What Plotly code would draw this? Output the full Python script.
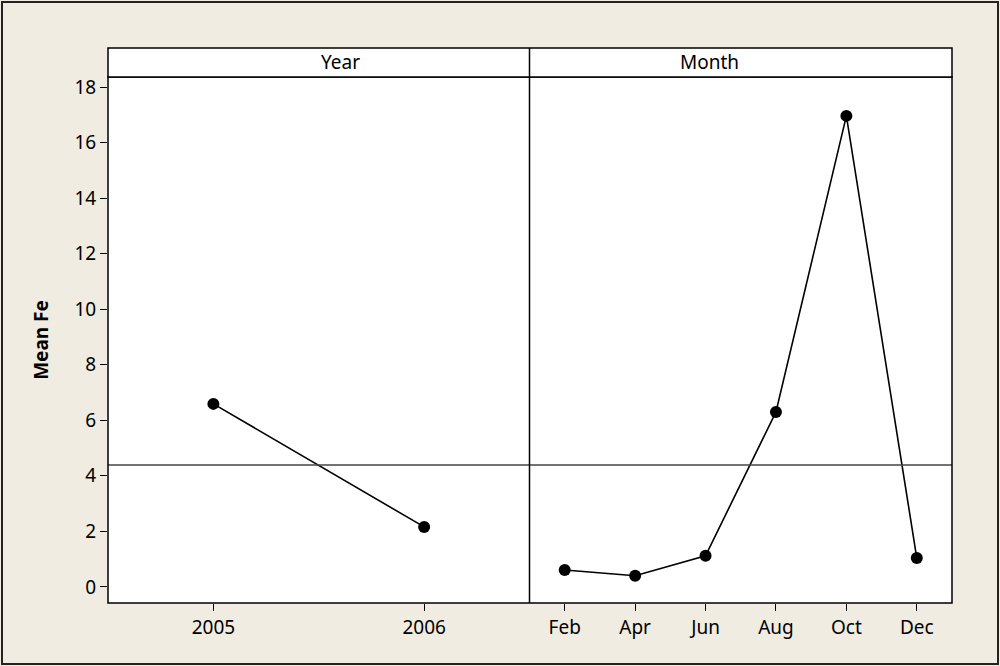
import plotly.graph_objects as go

years = ["2005", "2006"]
year_means = [6.59, 2.16]
months = ["Feb", "Apr", "Jun", "Aug", "Oct", "Dec"]
month_means = [0.61, 0.40, 1.12, 6.30, 16.96, 1.04]
overall_mean = 4.39
panel_titles = ["Year", "Month"]
y_ticks = [0, 2, 4, 6, 8, 10, 12, 14, 16, 18]

W, H = 1000, 666
L, R, T, B = 108, 48, 77, 63
pw = W - L - R
ph = H - T - B
split = (529.5 - L) / pw

FONT = "Noto Sans"

fig = go.Figure()
fig.add_trace(go.Scatter(
    x=years, y=year_means, xaxis="x", yaxis="y", mode="lines+markers",
    line=dict(color="black", width=1.6),
    marker=dict(color="black", size=12), showlegend=False))
fig.add_trace(go.Scatter(
    x=months, y=month_means, xaxis="x2", yaxis="y", mode="lines+markers",
    line=dict(color="black", width=1.6),
    marker=dict(color="black", size=12), showlegend=False))

axis_common = dict(ticks="outside", ticklen=7, tickcolor="black", tickwidth=1.2,
                   showgrid=False, zeroline=False, showline=False,
                   tickfont=dict(family=FONT, size=19, color="black"))

fig.update_layout(
    width=W, height=H,
    margin=dict(l=L, r=R, t=T, b=B, pad=0),
    paper_bgcolor="#f0ece2",
    plot_bgcolor="white",
    xaxis=dict(domain=[0, split], range=[-0.5, 1.5], type="category",
               anchor="y", **axis_common),
    xaxis2=dict(domain=[split, 1], range=[-0.5, 5.5], type="category",
                anchor="y", **axis_common),
    yaxis=dict(domain=[0, 1], range=[-0.58, 18.36], tickvals=y_ticks,
               title=dict(text="<b>Mean Fe</b>", font=dict(family=FONT, size=19, color="black"),
                          standoff=20),
               **axis_common),
)

hdr = 29 / ph
shapes = []
# mean line
shapes.append(dict(type="line", xref="paper", yref="y", x0=0, x1=1,
                   y0=overall_mean, y1=overall_mean, line=dict(color="#444444", width=1.5)))
# plot frame
shapes.append(dict(type="rect", xref="paper", yref="paper", x0=0, x1=1, y0=0, y1=1,
                   line=dict(color="black", width=1.5)))
# header box
shapes.append(dict(type="rect", xref="paper", yref="paper", x0=0, x1=1, y0=1, y1=1 + hdr,
                   fillcolor="white", line=dict(color="black", width=1.5)))
# panel divider
shapes.append(dict(type="line", xref="paper", yref="paper", x0=split, x1=split, y0=0, y1=1 + hdr,
                   line=dict(color="black", width=1.5)))
# outer border
shapes.append(dict(type="rect", xref="paper", yref="paper",
                   x0=(2 - L) / pw, x1=(998 - L) / pw,
                   y0=(H - B - 664) / ph, y1=(H - B - 2) / ph,
                   line=dict(color="#222222", width=2), layer="below"))
fig.update_layout(shapes=shapes)

for i, (xc) in enumerate([split / 2, (split + 1) / 2]):
    fig.add_annotation(text=panel_titles[i], xref="paper", yref="paper", x=xc, y=1 + hdr / 2,
                       yanchor="middle", showarrow=False,
                       font=dict(family=FONT, size=19, color="black"))

fig.write_html("out.html", config={"displayModeBar": False},
               post_script="document.body.style.margin='0';document.body.style.overflow='hidden';")
